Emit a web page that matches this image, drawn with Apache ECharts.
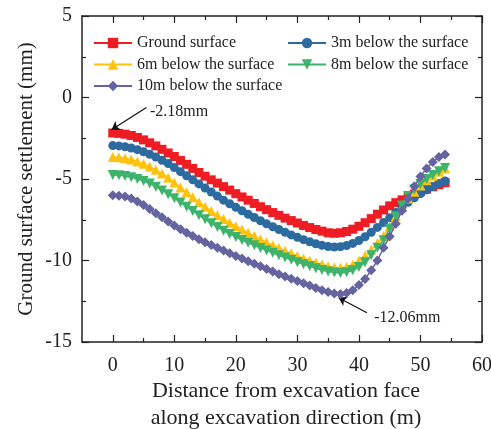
<!DOCTYPE html>
<html>
<head>
<meta charset="utf-8">
<script src="https://cdn.jsdelivr.net/npm/echarts@6/dist/echarts.min.js"></script>
<style>html,body{margin:0;padding:0;background:#fff;}#main{width:491px;height:429px;}</style>
</head>
<body>
<div id="main"></div>
<script>
// ---- data ----
var distance = [];
for (var i = 0; i <= 54; i++) distance.push(i); // 1 m spacing, 0..54 m

var seriesNames = ['Ground surface', '3m below the surface', '6m below the surface', '8m below the surface', '10m below the surface'];

var groundSurface = [-2.18,-2.2,-2.25,-2.33,-2.45,-2.6,-2.78,-2.97,-3.18,-3.4,
  -3.62,-3.86,-4.1,-4.35,-4.6,-4.83,-5.05,-5.25,-5.47,-5.68,
  -5.9,-6.1,-6.3,-6.5,-6.7,-6.88,-7.06,-7.23,-7.4,-7.55,
  -7.7,-7.85,-7.98,-8.1,-8.2,-8.3,-8.33,-8.3,-8.22,-8.08,
  -7.9,-7.68,-7.43,-7.16,-6.9,-6.65,-6.45,-6.28,-6.1,-5.93,
  -5.77,-5.62,-5.48,-5.35,-5.23];

var below3m = [-2.95,-2.97,-3.02,-3.1,-3.2,-3.33,-3.48,-3.65,-3.85,-4.05,
  -4.3,-4.55,-4.8,-5.05,-5.3,-5.55,-5.8,-6.05,-6.3,-6.52,
  -6.74,-6.95,-7.16,-7.36,-7.56,-7.75,-7.93,-8.1,-8.27,-8.43,
  -8.58,-8.72,-8.85,-8.97,-9.07,-9.14,-9.17,-9.15,-9.08,-8.95,
  -8.77,-8.54,-8.27,-7.97,-7.67,-7.37,-7.05,-6.73,-6.43,-6.15,
  -5.9,-5.67,-5.46,-5.28,-5.12];

var below6m = [-3.65,-3.67,-3.72,-3.8,-3.92,-4.07,-4.24,-4.44,-4.66,-4.92,
  -5.22,-5.52,-5.82,-6.12,-6.42,-6.7,-6.97,-7.22,-7.46,-7.68,
  -7.9,-8.1,-8.3,-8.5,-8.7,-8.88,-9.06,-9.23,-9.4,-9.56,
  -9.72,-9.87,-10.0,-10.13,-10.25,-10.35,-10.42,-10.45,-10.4,-10.25,
  -10.0,-9.7,-9.32,-8.92,-8.5,-7.9,-7.28,-6.72,-6.2,-5.78,
  -5.4,-5.08,-4.8,-4.55,-4.35];

var below8m = [-4.75,-4.77,-4.82,-4.9,-5.0,-5.13,-5.28,-5.47,-5.7,-5.93,
  -6.18,-6.44,-6.7,-6.96,-7.22,-7.47,-7.72,-7.95,-8.17,-8.37,
  -8.56,-8.74,-8.91,-9.07,-9.23,-9.38,-9.53,-9.68,-9.82,-9.96,
  -10.1,-10.23,-10.36,-10.48,-10.59,-10.68,-10.74,-10.76,-10.72,-10.6,
  -10.4,-10.1,-9.68,-9.22,-8.75,-8.05,-7.3,-6.62,-6.05,-5.65,
  -5.3,-5.0,-4.75,-4.52,-4.32];

var below10m = [-6.0,-6.02,-6.08,-6.2,-6.38,-6.6,-6.84,-7.1,-7.35,-7.6,
  -7.85,-8.08,-8.3,-8.5,-8.7,-8.88,-9.05,-9.22,-9.38,-9.55,
  -9.72,-9.88,-10.04,-10.2,-10.36,-10.52,-10.68,-10.84,-10.98,-11.12,
  -11.26,-11.4,-11.54,-11.68,-11.82,-11.94,-12.03,-12.06,-12.0,-11.82,
  -11.5,-11.13,-10.6,-10.0,-9.22,-8.52,-7.74,-6.95,-6.2,-5.45,
  -4.85,-4.35,-3.95,-3.65,-3.5];

var xMajorTicks = [0, 10, 20, 30, 40, 50, 60];
var xMinorTicks = [5, 15, 25, 35, 45, 55];

var annotationTexts = ['-2.18mm', '-12.06mm'];

// ---- chart ----
var FONT = 'Liberation Serif';
var TXT = '#222';
var colors = ['#EE1D23', '#2C6A9F', '#FFC20E', '#3DB36B', '#6563A0'];
var symbols = ['rect', 'circle', 'triangle', 'path://M0,0 L10,0 L5,9 Z', 'diamond'];
var sizes = [9, 9, 10, 10, 10];
var allData = [groundSurface, below3m, below6m, below8m, below10m];

function pairs(ys) { return distance.map(function (x, i) { return [x, ys[i]]; }); }

var series = allData.map(function (ys, k) {
  return {
    name: seriesNames[k], type: 'line', xAxisIndex: 0, yAxisIndex: 0,
    data: pairs(ys), symbol: symbols[k], symbolSize: sizes[k], showAllSymbol: true,
    itemStyle: { color: colors[k] }, lineStyle: { color: colors[k], width: 1.5 },
    z: 2 + k
  };
});

var arrowStyle = { color: '#111', width: 1.2, type: 'solid' };
series[0].markLine = {
  silent: true, symbol: ['none', 'arrow'], symbolSize: 8, label: { show: false },
  lineStyle: arrowStyle, animation: false,
  data: [[{ coord: [5.46, -0.62] }, { coord: [-0.2, -1.98] }]]
};
series[0].markPoint = {
  silent: true, animation: false,
  data: [{ coord: [5.95, -0.85], symbol: 'rect', symbolSize: 1, itemStyle: { color: 'rgba(0,0,0,0)' },
    label: { show: true, position: 'right', distance: 0, formatter: annotationTexts[0], color: TXT, fontSize: 16, fontFamily: FONT } }]
};
series[4].markLine = {
  silent: true, symbol: ['none', 'arrow'], symbolSize: 8, label: { show: false },
  lineStyle: arrowStyle, animation: false,
  data: [[{ coord: [41.3, -13.2] }, { coord: [36.7, -12.28] }]]
};
series[4].markPoint = {
  silent: true, animation: false,
  data: [{ coord: [42.4, -13.52], symbol: 'rect', symbolSize: 1, itemStyle: { color: 'rgba(0,0,0,0)' },
    label: { show: true, position: 'right', distance: 0, formatter: annotationTexts[1], color: TXT, fontSize: 16, fontFamily: FONT } }]
};

var axisLineStyle = { show: true, onZero: false, lineStyle: { color: '#222', width: 1.5 } };
function xAx(pos, ticks, len, labels, line) {
  return {
    type: 'value', position: pos, min: -5, max: 60, gridIndex: 0,
    axisLine: line ? axisLineStyle : { show: false, onZero: false },
    axisTick: { show: true, inside: true, length: len, customValues: ticks, lineStyle: { color: '#222', width: 1.2 } },
    axisLabel: labels ? { show: true, customValues: ticks, margin: 14, fontSize: 20, fontFamily: FONT, color: TXT } : { show: false },
    splitLine: { show: false }
  };
}
var xAxes = [xAx('bottom', xMajorTicks, 7, true, true), xAx('bottom', xMinorTicks, 4, false, false),
             xAx('top', xMajorTicks, 7, false, true), xAx('top', xMinorTicks, 4, false, false)];
xAxes[0].name = 'Distance from excavation face\nalong excavation direction (m)';
xAxes[0].nameLocation = 'middle';
xAxes[0].nameGap = 36;
xAxes[0].nameMoveOverlap = false;
xAxes[0].nameTextStyle = { fontSize: 22, fontFamily: FONT, color: TXT, lineHeight: 27, padding: [0, 0, 0, 8] };

function yAx(pos, labels) {
  return {
    type: 'value', position: pos, min: -15, max: 5, interval: 5,
    axisLine: axisLineStyle,
    axisTick: { show: true, inside: true, length: 7, lineStyle: { color: '#222', width: 1.2 } },
    minorTick: { show: true, splitNumber: 2, length: 4, lineStyle: { color: '#222', width: 1.2 } },
    axisLabel: labels ? { show: true, margin: 10, fontSize: 20, fontFamily: FONT, color: TXT } : { show: false },
    splitLine: { show: false }, minorSplitLine: { show: false }
  };
}
var yAxes = [yAx('left', true), yAx('right', false)];
yAxes[0].name = 'Ground surface settlement (mm)';
yAxes[0].nameLocation = 'middle';
yAxes[0].nameGap = 45;
yAxes[0].nameMoveOverlap = false;
yAxes[0].nameTextStyle = { fontSize: 21, fontFamily: FONT, color: TXT };

var legendText = { fontSize: 16, fontFamily: FONT, color: TXT };
var option = {
  animation: false,
  backgroundColor: '#fff',
  grid: { left: 82, right: 9, top: 16, bottom: 87, containLabel: false, outerBoundsMode: 'none' },
  legend: [
    { orient: 'vertical', left: 88, top: 30, itemWidth: 38, itemHeight: 13, itemGap: 5.5,
      data: [seriesNames[0], seriesNames[2], seriesNames[4]], textStyle: legendText },
    { orient: 'vertical', left: 282, top: 30, itemWidth: 38, itemHeight: 13, itemGap: 5.5,
      data: [seriesNames[1], seriesNames[3]], textStyle: legendText }
  ],
  xAxis: xAxes,
  yAxis: yAxes,
  series: series
};

var chart = echarts.init(document.getElementById('main'), null, { renderer: 'canvas' });
chart.setOption(option);
</script>
</body>
</html>
